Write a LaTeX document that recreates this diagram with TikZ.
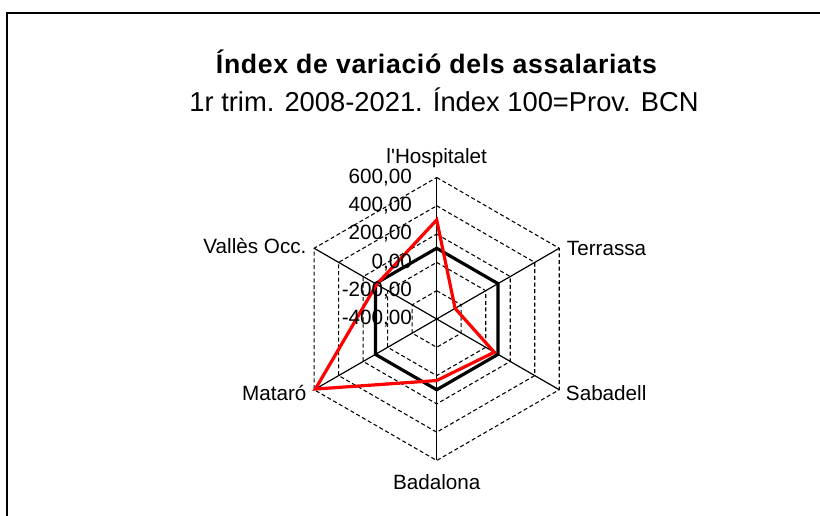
\documentclass[tikz,border=0pt]{standalone}
\usepackage{fontspec}
\setmainfont{Liberation Sans}
\newfontfamily\titlefont[LetterSpace=2.4]{Liberation Sans}
\newfontfamily\rawfont[Ligatures=TeXOff]{Liberation Sans}
\begin{document}
\begin{tikzpicture}[x=0.75pt,y=0.75pt,
  lbl/.style={font=\fontsize{15.5}{18}\selectfont, inner sep=0pt},
  gridd/.style={black, line width=0.8pt, dash pattern=on 3pt off 2pt},
  axisl/.style={black, line width=0.9pt},
  refhex/.style={black, line width=2.4pt, line join=miter},
  serie/.style={red, line width=2.4pt, line join=miter}]
\useasboundingbox (0,0) rectangle (820,516);
\fill[white] (0,0) rectangle (820,516);
% frame (top and left edges)
\draw[line width=1.1pt] (7,-2) -- (7,503) -- (822,503);
% titles
\node[inner sep=0pt, font=\titlefont\fontsize{20}{22}\selectfont\bfseries] (title) at (436.5,454) {Índex de variació dels assalariats};
\node[inner sep=0pt, font=\fontsize{20.5}{24}\selectfont] (subtitle) at (444,416) {1r trim. 2008-2021. Índex 100=Prov. BCN};
\begin{scope}[shift={(436.7,197)}]
  \def\R{141.5}
  % dashed rings
  \foreach \f in {0.2,0.4,0.6,0.8,1.0}
    \draw[gridd] (90:\f*\R) -- (30:\f*\R) -- (-30:\f*\R) -- (-90:\f*\R) -- (-150:\f*\R) -- (150:\f*\R) -- cycle;
  % axes
  \foreach \a in {90,30,-30,-90,-150,150}
    \draw[axisl] (0,0) -- (\a:\R);
  % reference hexagon (100)
  \draw[refhex] (90:0.5*\R) -- (30:0.5*\R) -- (-30:0.5*\R) -- (-90:0.5*\R) -- (-150:0.5*\R) -- (150:0.5*\R) -- cycle;
  % series
  \draw[serie] (90:0.70*\R) -- (30:0.15*\R) -- (-30:0.47*\R) -- (-90:0.435*\R) -- (-150:0.99*\R) -- (150:0.49*\R) -- cycle;
  % tick labels
  \node[lbl, anchor=east] (t600) at (-24.5,1.0*\R) {600,00};
  \node[lbl, anchor=east] (t400) at (-24.5,0.8*\R) {400,00};
  \node[lbl, anchor=east] (t200) at (-24.5,0.6*\R) {200,00};
  \node[lbl, anchor=east] (t0) at (-24.5,0.4*\R) {0,00};
  \node[lbl, anchor=east] (tm200) at (-24.5,0.2*\R) {-200,00};
  \node[lbl, anchor=east] (tm400) at (-24.5,0) {-400,00};
  % category labels
  \node[lbl, font=\rawfont\fontsize{15.5}{18}\selectfont] (hosp) at (0,161) {l'Hospitalet};
  \node[lbl, anchor=west] (terr) at (130,71) {Terrassa};
  \node[lbl, anchor=west] (saba) at (129,-74) {Sabadell};
  \node[lbl] (bada) at (0,-163) {Badalona};
  \node[lbl, anchor=east] (mata) at (-130,-74) {Mataró};
  \node[lbl, anchor=east] (vall) at (-130,73) {Vallès Occ.};
\end{scope}
\end{tikzpicture}
\end{document}
